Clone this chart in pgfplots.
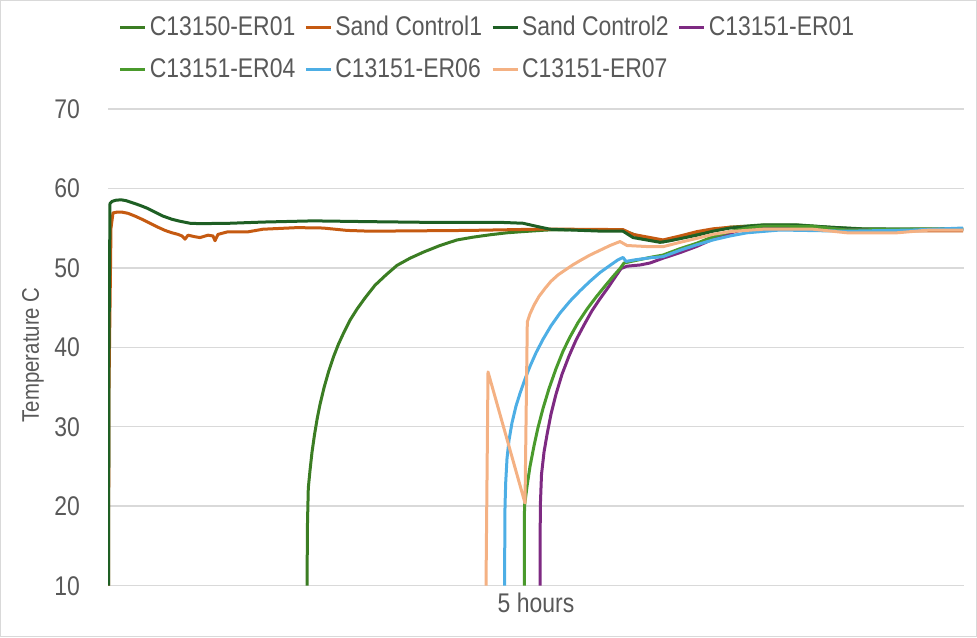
\documentclass[border=0pt]{standalone}
\usepackage{fontspec}
\setmainfont{Liberation Sans}[FakeStretch=0.85]
\usepackage{pgfplots}
\pgfplotsset{compat=1.18}
\definecolor{cA}{HTML}{3B7D23}
\definecolor{cB}{HTML}{C55A11}
\definecolor{cC}{HTML}{1E5F24}
\definecolor{cD}{HTML}{7E2A82}
\definecolor{cE}{HTML}{4A9A2C}
\definecolor{cF}{HTML}{4DAEE5}
\definecolor{cG}{HTML}{F4B183}
\definecolor{gridgray}{HTML}{D9D9D9}
\definecolor{textgray}{HTML}{595959}

\pgfplotstableread{
x y
307 10
307.5 18
308.3 22.3
310 24.5
312 26.8
314.5 29
317 30.9
320 32.8
324 34.9
328.5 36.9
333.5 38.8
338.5 40.4
344 41.9
350 43.4
357 44.8
365 46.2
375 47.8
386 49.1
397 50.3
410 51.2
424 52.0
440 52.8
457 53.5
473 53.85
490 54.15
507 54.4
523 54.55
547 54.75
580 54.8
623 54.7
640 53.9
663 53.25
680 53.8
697 54.25
713 54.7
730 55.1
763 55.4
797 55.4
830 55.1
863 54.9
913 54.85
963 54.85
}\tabA

\pgfplotstableread{
x y
108.5 10
109 35
111 55
113 56.9
117 57.0
122 57.0
128 56.85
135 56.5
142 56.1
150 55.6
158 55.1
165 54.7
172 54.4
178 54.2
182 54.0
185 53.6
188 54.1
195 53.9
200 53.8
208 54.1
213 54.0
215 53.4
218 54.2
227 54.5
247 54.5
263 54.85
297 55.05
323 55.0
347 54.7
370 54.6
470 54.7
537 54.85
570 54.85
623 54.8
633 54.2
663 53.5
680 54.0
697 54.55
713 54.9
730 55.1
763 55.2
797 55.15
847 54.75
913 54.65
963 54.65
}\tabB

\pgfplotstableread{
x y
108.5 10
109 40
110 58.1
112 58.35
116 58.5
121 58.55
126 58.45
132 58.2
140 57.85
147 57.5
155 57.0
163 56.5
172 56.1
180 55.85
190 55.6
200 55.55
230 55.6
263 55.75
313 55.9
370 55.8
437 55.7
503 55.7
523 55.6
537 55.2
550 54.85
603 54.6
623 54.6
633 53.8
660 53.2
670 53.4
697 54.1
713 54.6
730 55.0
763 55.35
797 55.35
830 55.1
863 54.85
913 54.85
963 54.9
}\tabC

\pgfplotstableread{
x y
540 10
540.3 20
541.5 24
544 26.8
547 29
551 31.6
556 34.1
562 36.6
569 38.9
576 40.9
584 42.8
592 44.6
600 46.1
608 47.5
615 48.8
621 49.9
627 50.2
640 50.35
650 50.6
663 51.2
680 51.9
697 52.7
713 53.6
730 54.35
747 54.95
763 55.2
813 55.15
847 54.75
913 54.8
963 54.8
}\tabD

\pgfplotstableread{
x y
524.3 10
524.5 20
527 22.5
530 25
534 27.6
538 29.9
543 32.3
549 34.8
556 37.3
563 39.5
570 41.3
578 43.1
587 44.8
596 46.3
605 47.7
613 48.9
620 49.9
624 50.6
635 50.9
650 51.3
663 51.6
680 52.4
697 53.1
713 53.9
730 54.55
747 55.0
763 55.25
813 55.2
847 54.75
913 54.85
963 54.85
}\tabE

\pgfplotstableread{
x y
504.5 10
505 20
505.7 23
507 26
509 28.3
512 30.5
516 32.6
520 34.2
525 36.0
530 37.6
536 39.3
543 41.0
551 42.7
560 44.3
570 45.8
580 47.1
590 48.3
600 49.4
610 50.3
618 51.0
623 51.3
626 50.8
635 51.0
650 51.25
663 51.4
680 52.2
697 52.9
713 53.5
730 54.0
747 54.4
780 54.75
847 54.6
913 54.75
963 55.0
}\tabF

\pgfplotstableread{
x y
486 10
488 36.9
525 20.4
527.3 43.2
530 44.2
534 45.3
539 46.4
545 47.4
551 48.3
558 49.1
565 49.7
572 50.3
580 50.9
590 51.6
600 52.2
610 52.8
620 53.3
627 52.8
650 52.65
663 52.65
680 53.2
697 53.7
713 54.2
730 54.55
763 54.85
813 54.85
847 54.4
897 54.4
930 54.75
963 54.75
}\tabG

\begin{document}
\begin{tikzpicture}
\useasboundingbox (0,0) rectangle (488.5pt,318.5pt);
\draw[color=gridgray, line width=0.6pt] (0.3pt,0.3pt) rectangle (488.2pt,318.2pt);
\begin{axis}[
  at={(54pt,25.65pt)}, anchor=south west,
  scale only axis, width=428pt, height=238.45pt,
  xmin=108, xmax=964, ymin=10, ymax=70,
  ytick={10,20,...,70},
  xtick={536}, xticklabels={5 hours},
  major tick length=0pt,
  ymajorgrids, grid style={color=gridgray, line width=0.75pt},
  axis x line*=bottom, axis y line*=left,
  x axis line style={color=gridgray, line width=0.75pt, -},
  y axis line style={draw=none},
  tick label style={font=\fontsize{13.5}{16}\selectfont, text=textgray},
  yticklabel style={xshift=-10.5pt},
  /pgf/number format/assume math mode=true,
  ylabel={Temperature C},
  ylabel style={font=\fontsize{12}{14}\selectfont, text=textgray, at={(axis description cs:-0.0876,0.484)}, anchor=center},
  no markers,
  every axis plot/.append style={line width=1.5pt, line join=round},
  legend columns=4,
  legend cell align=left,
  legend image code/.code={\draw[#1, line width=1.5pt] (0pt,0pt) -- (12.5pt,0pt);},
  legend style={at={(axis description cs:0.444,1.127)}, anchor=center, draw=none, fill=none,
    font=\fontsize{13.5}{16}\selectfont, text=textgray,
    nodes={inner sep=1.5pt},
    /tikz/row sep=7pt,
    /tikz/every even column/.append style={column sep=3pt}},
]
\addplot[cA] table {\tabA};
\addlegendentry{C13150-ER01}
\addplot[cB] table {\tabB};
\addlegendentry{Sand Control1}
\addplot[cC] table {\tabC};
\addlegendentry{Sand Control2}
\addplot[cD] table {\tabD};
\addlegendentry{C13151-ER01}
\addplot[cE] table {\tabE};
\addlegendentry{C13151-ER04}
\addplot[cF] table {\tabF};
\addlegendentry{C13151-ER06}
\addplot[cG] table {\tabG};
\addlegendentry{C13151-ER07}
\end{axis}
\end{tikzpicture}
\end{document}
